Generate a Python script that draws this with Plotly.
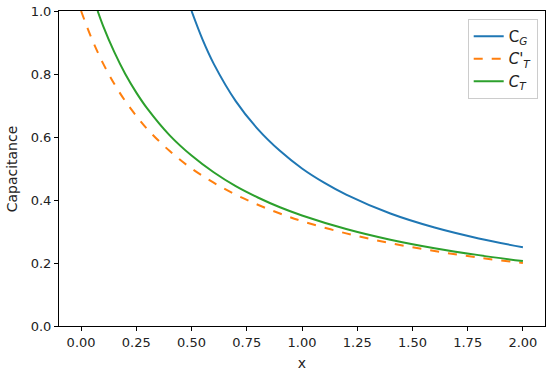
import plotly.graph_objects as go

# Values
x_g = [0.5, 0.55, 0.6, 0.7, 0.8, 0.9, 1.0, 1.1, 1.2, 1.4, 1.6, 1.8, 2.0]
c_g = [1.0, 0.909, 0.833, 0.714, 0.625, 0.556, 0.5, 0.455, 0.417, 0.357, 0.3125, 0.278, 0.25]

x_tp = [0.0, 0.05, 0.1, 0.15, 0.2, 0.25, 0.3, 0.4, 0.5, 0.6, 0.7, 0.8, 0.9, 1.0, 1.2, 1.4, 1.6, 1.8, 2.0]
c_tp = [1.0, 0.909, 0.833, 0.769, 0.714, 0.667, 0.625, 0.556, 0.5, 0.455, 0.417, 0.385, 0.357, 0.333, 0.294, 0.263, 0.238, 0.217, 0.2]

x_t = [0.075, 0.1, 0.15, 0.2, 0.25, 0.3, 0.4, 0.5, 0.6, 0.7, 0.8, 0.9, 1.0, 1.2, 1.4, 1.6, 1.8, 2.0]
c_t = [1.0, 0.952, 0.870, 0.8, 0.741, 0.690, 0.606, 0.541, 0.488, 0.444, 0.408, 0.377, 0.351, 0.308, 0.274, 0.247, 0.225, 0.206]

x_ticks = [0.0, 0.25, 0.5, 0.75, 1.0, 1.25, 1.5, 1.75, 2.0]
y_ticks = [0.0, 0.2, 0.4, 0.6, 0.8, 1.0]

fig = go.Figure()
fig.add_trace(go.Scatter(x=x_g, y=c_g, mode="lines", name="C<sub><i>G</i></sub>",
                         line=dict(color="#1f77b4", width=2, shape="spline")))
fig.add_trace(go.Scatter(x=x_tp, y=c_tp, mode="lines", name="<i>C'<sub>T</sub></i>",
                         line=dict(color="#ff7f0e", width=2, dash="dash", shape="spline")))
fig.add_trace(go.Scatter(x=x_t, y=c_t, mode="lines", name="<i>C<sub>T</sub></i>",
                         line=dict(color="#2ca02c", width=2, shape="spline")))

axis_common = dict(showgrid=False, zeroline=False, showline=True, linecolor="black",
                   linewidth=1, mirror=True, ticks="outside", ticklen=4, tickcolor="black",
                   automargin=False, tickfont=dict(size=13, color="#222"))
fig.update_xaxes(range=[-0.1, 2.1], tickvals=x_ticks, tickformat=".2f",
                 title=dict(text="x", font=dict(size=14, color="#222"), standoff=9), **axis_common)
fig.update_yaxes(range=[0, 1], tickvals=y_ticks, tickformat=".1f", **axis_common)

fig.add_annotation(text="Capacitance", xref="paper", yref="paper", x=-0.097, y=0.5,
                   xanchor="center", yanchor="middle", textangle=-90, showarrow=False,
                   font=dict(size=14, color="#222"))

fig.update_layout(
    width=550, height=375,
    margin=dict(l=59, r=5, t=11, b=49),
    plot_bgcolor="white", paper_bgcolor="white",
    font=dict(family="DejaVu Sans", size=13, color="#222"),
    legend=dict(x=0.985, y=0.975, xanchor="right", yanchor="top",
                bgcolor="rgba(255,255,255,0.8)", bordercolor="#cccccc", borderwidth=1,
                font=dict(size=15), tracegroupgap=0, itemwidth=30),
)

# remove the browser's default 8px body margin so the figure sits at the page origin
fig.write_html("out.html", config={"displayModeBar": False},
               post_script="document.body.style.margin='0';document.body.style.overflow='hidden';")
